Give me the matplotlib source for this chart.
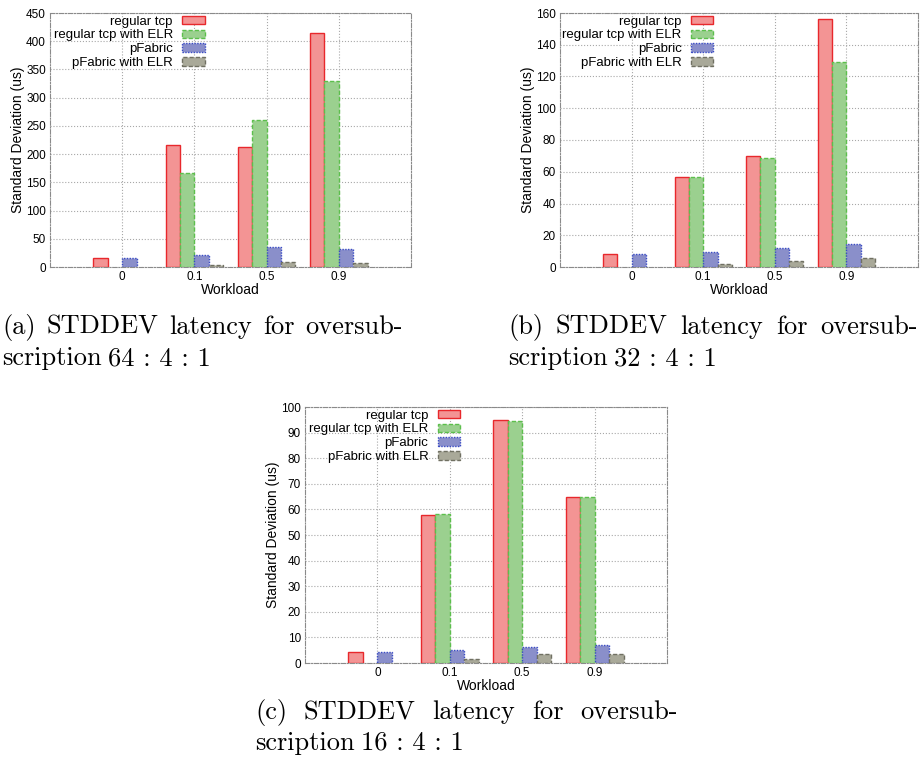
import matplotlib
matplotlib.use('Agg')
import matplotlib.pyplot as plt
import numpy as np

plt.rcParams['font.family'] = 'Liberation Sans'
plt.rcParams['font.size'] = 8.5

workloads = ['0', '0.1', '0.5', '0.9']
series = ['regular tcp', 'regular tcp with ELR', 'pFabric', 'pFabric with ELR']

# panel (a) 64:4:1
a_tcp = [15.9, 215.5, 213.0, 415.0]
a_tcp_elr = [np.nan, 166.0, 260.0, 330.0]
a_pfabric = [15.9, 20.6, 35.3, 32.4]
a_pfabric_elr = [np.nan, 3.5, 8.8, 7.1]

# panel (b) 32:4:1
b_tcp = [8.2, 57.0, 69.7, 156.4]
b_tcp_elr = [np.nan, 56.8, 68.5, 129.0]
b_pfabric = [8.2, 9.6, 12.2, 14.8]
b_pfabric_elr = [np.nan, 2.0, 3.5, 5.8]

# panel (c) 16:4:1
c_tcp = [4.4, 57.7, 94.9, 65.0]
c_tcp_elr = [np.nan, 58.3, 94.6, 64.7]
c_pfabric = [4.4, 5.0, 6.4, 6.9]
c_pfabric_elr = [np.nan, 1.7, 3.7, 3.7]

a_yticks = np.arange(0, 451, 50)
b_yticks = np.arange(0, 161, 20)
c_yticks = np.arange(0, 101, 10)

face = ['#f39494', '#9bd08f', '#8a8fca', '#a9a999']
edge = ['#e8282c', '#5cbf4c', '#3a4cc4', '#707062']
lstyle = ['-', (0, (3, 1.5)), (0, (1, 1)), (0, (3, 1.5))]

W, H = 923, 765
fig = plt.figure(figsize=(W / 100, H / 100), dpi=100)


def px_axes(left, top, right, bottom):
    return fig.add_axes([left / W, 1 - bottom / H, (right - left) / W,
                         (bottom - top) / H])


def panel(ax, data, yticks):
    x = np.arange(len(workloads))
    w = 0.2
    for k, vals in enumerate(data):
        ax.bar(x + (k - 1.5) * w, vals, w, color=face[k], edgecolor=edge[k],
               linewidth=1.0, linestyle=lstyle[k], label=series[k], zorder=3)
    ax.set_xlim(-1, 4)
    ax.set_ylim(0, yticks[-1])
    ax.set_yticks(yticks)
    ax.set_xticks(x)
    ax.set_xticklabels(workloads)
    ax.tick_params(length=0, pad=3, labelsize=8.5)
    ax.grid(True, color='#a8a8a8', linestyle=':', linewidth=0.8)
    ax.set_axisbelow(True)
    for s in ax.spines.values():
        s.set_color('#8a8a8a')
        s.set_linewidth(0.8)
        s.set_linestyle((0, (4, 1.5, 1, 1.5)))
    ax.set_xlabel('Workload', fontsize=10, labelpad=0)
    ax.set_ylabel('Standard Deviation (us)', fontsize=10, labelpad=1)
    ax.legend(loc='upper right', bbox_to_anchor=(0.428, 0.99), frameon=False,
              markerfirst=False, fontsize=9.5, borderpad=0, borderaxespad=0,
              handlelength=1.7, handleheight=0.6, handletextpad=0.7,
              labelspacing=0.14)


ax_a = px_axes(50, 13, 411, 267)
panel(ax_a, [a_tcp, a_tcp_elr, a_pfabric, a_pfabric_elr], a_yticks)
ax_b = px_axes(560, 13, 918, 267)
panel(ax_b, [b_tcp, b_tcp_elr, b_pfabric, b_pfabric_elr], b_yticks)
ax_c = px_axes(305, 407, 667, 663)
panel(ax_c, [c_tcp, c_tcp_elr, c_pfabric, c_pfabric_elr], c_yticks)

# captions, first line justified
renderer = fig.canvas.get_renderer()
cap_font = dict(family='cmr10', size=19)


def caption_line(words, left, baseline, right=None):
    texts = [fig.text(0, 0, wd, va='baseline', ha='left', **cap_font) for wd in words]
    widths = [t.get_window_extent(renderer).width for t in texts]
    if right is None:
        gap = 6.0
    else:
        gap = (right - left - sum(widths)) / (len(words) - 1)
    xpos = left
    for t, wdt in zip(texts, widths):
        t.set_position((xpos / W, 1 - baseline / H))
        xpos += wdt + gap


caption_line(['(a)', 'STDDEV', 'latency', 'for', 'oversub-'], 2, 334, 403)
caption_line(['scription', '64 : 4 : 1'], 2, 365)
caption_line(['(b)', 'STDDEV', 'latency', 'for', 'oversub-'], 508, 334, 918)
caption_line(['scription', '32 : 4 : 1'], 508, 365)
caption_line(['(c)', 'STDDEV', 'latency', 'for', 'oversub-'], 255, 719, 678)
caption_line(['scription', '16 : 4 : 1'], 255, 750)

fig.savefig('out.png', dpi=100)
